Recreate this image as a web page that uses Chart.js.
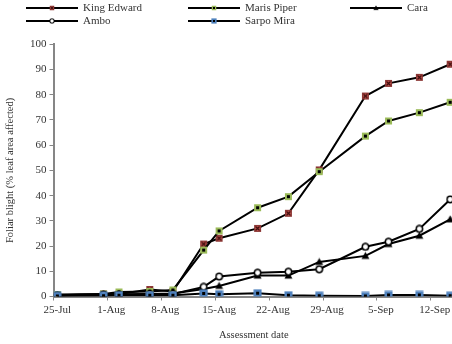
<!DOCTYPE html>
<html>
<head>
<meta charset="utf-8">
<title>Foliar blight</title>
<script src="https://cdn.jsdelivr.net/npm/chart.js"></script>
<style>
  html, body { margin: 0; padding: 0; background: #fff; overflow: hidden; }
  #wrap { width: 452px; height: 344px; overflow: hidden; position: relative; }
  #blight { position: absolute; left: 0; top: 0; }
</style>
</head>
<body>
<div id="wrap"><canvas id="blight" width="460" height="344"></canvas></div>
<script>
// assessment dates and % leaf area affected per variety
const assessDates = ['25-Jul', '31-Jul', '2-Aug', '6-Aug', '9-Aug', '13-Aug', '15-Aug', '20-Aug', '24-Aug', '28-Aug', '3-Sep', '6-Sep', '10-Sep', '14-Sep'];
const tickLabels = ['25-Jul', '1-Aug', '8-Aug', '15-Aug', '22-Aug', '29-Aug', '5-Sep', '12-Sep'];
const kingEdward = [0.5, 1, 1, 2.8, 2, 20.8, 23.1, 27, 33, 50.2, 79.5, 84.5, 86.9, 92.1];
const marisPiper = [0.8, 1, 1.8, 2, 2.6, 18.4, 26, 35.2, 39.6, 49.5, 63.6, 69.6, 72.9, 77];
const cara = [0.5, 0.7, 0.8, 1, 1.2, 3, 4.2, 8.3, 8.3, 13.7, 16.1, 20.8, 24.1, 30.6];
const ambo = [0.5, 0.8, 0.8, 1, 1, 3.8, 7.9, 9.4, 9.8, 10.8, 19.7, 21.7, 26.8, 38.5];
const sarpoMira = [0.2, 0.3, 0.5, 0.5, 0.5, 1.2, 0.9, 1.3, 0.5, 0.3, 0.2, 0.6, 0.6, 0.3];

const months = { Jul: 6, Aug: 7, Sep: 8 };
function dayOf(s) {
  const [d, m] = s.split('-');
  return (Date.UTC(2000, months[m], +d) - Date.UTC(2000, 6, 25)) / 864e5;
}
const days = assessDates.map(dayOf);
const pts = vals => vals.map((v, i) => ({ x: days[i], y: v }));

const FONT = 'Liberation Serif';

// little excel-like markers
function marker(kind) {
  const c = document.createElement('canvas');
  c.width = 9; c.height = 9;
  const g = c.getContext('2d');
  if (kind === 'ke') {
    g.fillStyle = '#C0504D'; g.fillRect(1, 1, 7, 7);
    g.strokeStyle = '#8c3836'; g.lineWidth = 1; g.strokeRect(1.5, 1.5, 6, 6);
    g.strokeStyle = '#3a0c0b'; g.lineWidth = 1.2;
    g.beginPath(); g.moveTo(2.5, 2.5); g.lineTo(6.5, 6.5); g.moveTo(6.5, 2.5); g.lineTo(2.5, 6.5); g.stroke();
  } else if (kind === 'mp') {
    g.fillStyle = '#9BBB59'; g.fillRect(1, 1, 7, 7);
    g.fillStyle = '#000'; g.fillRect(3, 3, 3, 3);
  } else if (kind === 'sm') {
    g.fillStyle = '#4F81BD'; g.fillRect(0.5, 0.5, 8, 8);
    g.fillStyle = '#000'; g.fillRect(3, 3, 3, 3);
  } else if (kind === 'tri') {
    g.fillStyle = '#000';
    g.beginPath(); g.moveTo(4.5, 0.5); g.lineTo(8.5, 7.5); g.lineTo(0.5, 7.5); g.closePath(); g.fill();
  } else {
    g.fillStyle = '#fff'; g.strokeStyle = '#000'; g.lineWidth = 1.5;
    g.beginPath(); g.arc(4.5, 4.5, 3.2, 0, Math.PI * 2); g.fill(); g.stroke();
  }
  return c;
}

const rowLegend = {
  id: 'rowLegend',
  afterDraw(chart) {
    const ctx = chart.ctx;
    chart.data.datasets.forEach((ds, i) => {
      const x = 26 + (i % 3) * 162, y = 8 + Math.floor(i / 3) * 13;
      ctx.save();
      ctx.strokeStyle = '#000'; ctx.lineWidth = 2;
      ctx.beginPath(); ctx.moveTo(x, y); ctx.lineTo(x + 52, y); ctx.stroke();
      ctx.drawImage(ds.pointStyle, x + 26 - 3, y - 3, 6, 6);
      ctx.fillStyle = '#333'; ctx.font = '11px "' + FONT + '"'; ctx.textBaseline = 'middle';
      ctx.fillText(ds.label, x + 57, y + 0.5);
      ctx.restore();
    });
  }
};

const series = [
  { label: 'King Edward', data: pts(kingEdward), pointStyle: marker('ke'), order: 4 },
  { label: 'Maris Piper', data: pts(marisPiper), pointStyle: marker('mp'), order: 3 },
  { label: 'Cara', data: pts(cara), pointStyle: marker('tri'), order: 2 },
  { label: 'Ambo', data: pts(ambo), pointStyle: marker('circ'), order: 1 },
  { label: 'Sarpo Mira', data: pts(sarpoMira), pointStyle: marker('sm'), order: 0 }
];
series.forEach(s => Object.assign(s, { borderColor: '#000', borderWidth: 2, tension: 0, fill: false }));

new Chart(document.getElementById('blight'), {
  type: 'line',
  data: { datasets: series },
  plugins: [rowLegend],
  options: {
    responsive: false,
    animation: false,
    devicePixelRatio: 1,
    layout: { padding: { top: 44.3, right: 4.3, left: 0, bottom: 0 } },
    plugins: { legend: { display: false }, tooltip: { enabled: false } },
    scales: {
      x: {
        type: 'linear', min: -0.5, max: 51.5,
        afterBuildTicks(s) { s.ticks = tickLabels.map((t, i) => ({ value: i * 7 - 0.5 })); },
        afterFit(s) { s.height = 47.5; },
        ticks: {
          callback: (v, i) => tickLabels[i],
          labelOffset: 3.87, autoSkip: false, maxRotation: 0, padding: 3,
          color: '#333', font: { family: FONT, size: 11 }
        },
        grid: { drawOnChartArea: false, tickLength: 4, color: '#868686' },
        border: { color: '#868686', width: 2 },
        title: { display: true, text: 'Assessment date', color: '#333', font: { family: FONT, size: 10.5 }, padding: { top: 0, bottom: 2 } }
      },
      y: {
        min: 0, max: 100,
        afterFit(s) { s.width = 53.5; },
        ticks: { stepSize: 10, padding: 3, color: '#333', font: { family: FONT, size: 11 } },
        grid: { drawOnChartArea: false, tickLength: 4, color: '#868686' },
        border: { color: '#868686', width: 2 },
        title: { display: true, text: 'Foliar blight (% leaf area affected)', color: '#333', font: { family: FONT, size: 10.5 }, padding: { top: 4, bottom: 0 } }
      }
    }
  }
});
</script>
</body>
</html>
